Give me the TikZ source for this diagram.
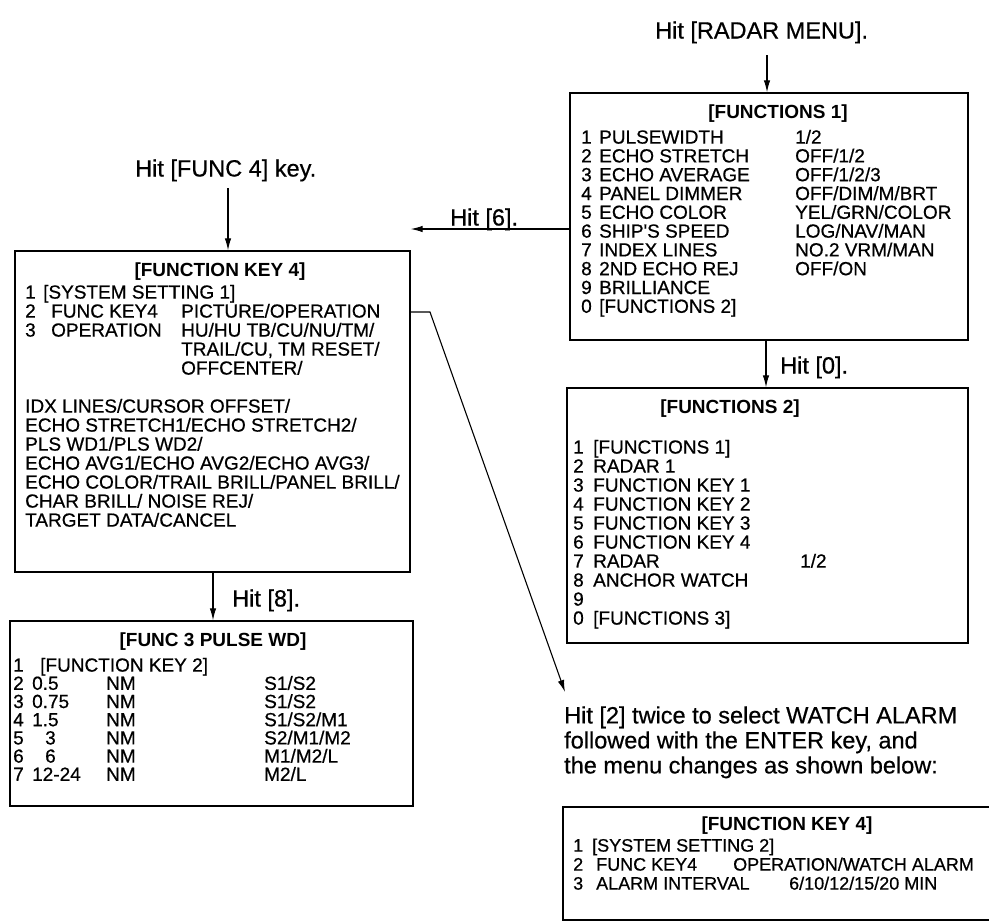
\documentclass[tikz,border=0pt]{standalone}
\usepackage{fontspec}
\setmainfont{Liberation Sans}
\newfontfamily\medfam{Liberation Sans}[FakeBold=0.6]
\usetikzlibrary{arrows.meta}
\newcommand\bodyfnt{\fontsize{19}{19}\selectfont\medfam}
\newcommand\smallfnt{\fontsize{18}{18}\selectfont\medfam}
\newcommand\ttlfnt{\fontsize{19}{19}\selectfont\bfseries}
\newcommand\labfnt{\fontsize{23.5}{25}\selectfont\medfam}
\tikzset{
  box/.style={draw, line width=1.4pt, inner sep=0pt},
  arr/.style={-{Latex[length=12pt,width=6.5pt]}, line width=1.1pt},
  txt/.style={anchor=base west, inner sep=0pt, font=\bodyfnt},
  stxt/.style={anchor=base west, inner sep=0pt, font=\smallfnt},
  ttl/.style={anchor=base, inner sep=0pt, font=\ttlfnt},
  lab/.style={anchor=base west, inner sep=0pt, font=\labfnt},
}
\begin{document}
\begin{tikzpicture}[x=1pt,y=-1pt]
\useasboundingbox (0,0) rectangle (989,922);

% ---------- boxes ----------
\node[box, minimum width=398pt, minimum height=247pt] (f1) at (769,216.5) {};
\node[box, minimum width=401pt, minimum height=255pt] (f2) at (767.5,515.5) {};
\node[box, minimum width=395pt, minimum height=321pt] (fk4) at (212.5,411.5) {};
\node[box, minimum width=403pt, minimum height=185pt] (pw) at (211.5,713.5) {};
\node[box, minimum width=437pt, minimum height=113pt] (fk4b) at (781.5,863.5) {};

% ---------- labels ----------
\node[lab] (lradar) at (655,38.5) {Hit [RADAR MENU].};
\node[lab] (lfunc) at (135,176.5) {Hit [FUNC 4] key.};
\node[lab] (l6) at (450,225.5) {Hit [6].};
\node[lab] (l0) at (780,373.5) {Hit [0].};
\node[lab] (l8) at (232,606.5) {Hit [8].};
\node[lab] (lw1) at (564,723.4) {Hit [2] twice to select WATCH ALARM};
\node[lab] (lw2) at (564,748.4) {followed with the ENTER key, and};
\node[lab] (lw3) at (564,773.4) {the menu changes as shown below:};

% ---------- FUNCTIONS 1 ----------
\node[ttl] (f1t) at (778,118.6) {[FUNCTIONS 1]};
\foreach \t [count=\i from 0] in {1,2,3,4,5,6,7,8,9,0}
  \node[txt] (f1n\i) at (581,{143.6+18.8*\i}) {\t};
\foreach \t [count=\i from 0] in {PULSEWIDTH,ECHO STRETCH,ECHO AVERAGE,PANEL DIMMER,ECHO COLOR,SHIP'S SPEED,INDEX LINES,2ND ECHO REJ,BRILLIANCE,{[FUNCTIONS 2]}}
  \node[txt] (f1a\i) at (599,{143.6+18.8*\i}) {\t};
\foreach \t [count=\i from 0] in {1/2,OFF/1/2,OFF/1/2/3,OFF/DIM/M/BRT,YEL/GRN/COLOR,LOG/NAV/MAN,NO.2 VRM/MAN,OFF/ON}
  \node[txt] (f1v\i) at (795,{143.6+18.8*\i}) {\t};

% ---------- FUNCTIONS 2 ----------
\node[ttl] (f2t) at (730,413.6) {[FUNCTIONS 2]};
\foreach \t [count=\i from 0] in {1,2,3,4,5,6,7,8,9,0}
  \node[txt] (f2n\i) at (573,{453.6+19*\i}) {\t};
\foreach \t [count=\i from 0] in {{[FUNCTIONS 1]},RADAR 1,FUNCTION KEY 1,FUNCTION KEY 2,FUNCTION KEY 3,FUNCTION KEY 4,RADAR,ANCHOR WATCH}
  \node[txt] (f2a\i) at (593,{453.6+19*\i}) {\t};
\node[txt] (f2a9) at (593,{453.6+19*9}) {[FUNCTIONS 3]};
\node[txt] (f2v6) at (800,{453.6+19*6}) {1/2};

% ---------- FUNCTION KEY 4 ----------
\node[ttl] (fk4t) at (220,276.6) {[FUNCTION KEY 4]};
\node[txt] (fk4n0) at (25,298.6) {1};
\node[txt] (fk4n1) at (25,317.6) {2};
\node[txt] (fk4n2) at (25,336.6) {3};
\node[txt] (fk4a0) at (43,298.6) {[SYSTEM SETTING 1]};
\node[txt] (fk4a1) at (51,317.6) {FUNC KEY4};
\node[txt] (fk4a2) at (51,336.6) {OPERATION};
\foreach \t [count=\i from 1] in {PICTURE/OPERATION,HU/HU TB/CU/NU/TM/,{TRAIL/CU, TM RESET/},OFFCENTER/}
  \node[txt] (fk4v\i) at (181,{298.6+19*\i}) {\t};
\foreach \t [count=\i from 0] in {IDX LINES/CURSOR OFFSET/,ECHO STRETCH1/ECHO STRETCH2/,PLS WD1/PLS WD2/,ECHO AVG1/ECHO AVG2/ECHO AVG3/,ECHO COLOR/TRAIL BRILL/PANEL BRILL/,CHAR BRILL/ NOISE REJ/,TARGET DATA/CANCEL}
  \node[txt] (fk4l\i) at (25,{412.6+19*\i}) {\t};

% ---------- FUNC 3 PULSE WD ----------
\node[ttl] (pwt) at (213,646.6) {[FUNC 3 PULSE WD]};
\foreach \t [count=\i from 0] in {1,2,3,4,5,6,7}
  \node[txt] (pwn\i) at (13,{671.6+18.2*\i}) {\t};
\node[txt] (pwa0) at (40,671.6) {[FUNCTION KEY 2]};
\node[txt] (pwa1) at (32,{671.6+18.2*1}) {0.5};
\node[txt] (pwa2) at (32,{671.6+18.2*2}) {0.75};
\node[txt] (pwa3) at (32,{671.6+18.2*3}) {1.5};
\node[txt] (pwa4) at (45,{671.6+18.2*4}) {3};
\node[txt] (pwa5) at (45,{671.6+18.2*5}) {6};
\node[txt] (pwa6) at (32,{671.6+18.2*6}) {12-24};
\foreach \i in {1,...,6}
  \node[txt] (pwu\i) at (106,{671.6+18.2*\i}) {NM};
\foreach \t [count=\i from 1] in {S1/S2,S1/S2,S1/S2/M1,S2/M1/M2,M1/M2/L,M2/L}
  \node[txt] (pwv\i) at (264,{671.6+18.2*\i}) {\t};

% ---------- FUNCTION KEY 4 (after) ----------
\node[ttl] (fk4bt) at (787,830.6) {[FUNCTION KEY 4]};
\node[stxt] (fk4bn0) at (573,851.6) {1};
\node[stxt] (fk4bn1) at (573,870.6) {2};
\node[stxt] (fk4bn2) at (573,889.6) {3};
\node[stxt] (fk4ba0) at (592,851.6) {[SYSTEM SETTING 2]};
\node[stxt] (fk4ba1) at (596,870.6) {FUNC KEY4};
\node[stxt] (fk4ba2) at (596,889.6) {ALARM INTERVAL};
\node[stxt] (fk4bv1) at (733,870.6) {OPERATION/WATCH ALARM};
\node[stxt] (fk4bv2) at (789,889.6) {6/10/12/15/20 MIN};

% ---------- connectors ----------
\coordinate (radarStart) at (767,55);
\draw[arr] (radarStart) -- (radarStart |- f1.north);
\coordinate (funcStart) at (228,188);
\draw[arr] (funcStart) -- (funcStart |- fk4.north);
\coordinate (h6) at (0,229);
\draw[arr] (h6 -| f1.west) -- (h6 -| fk4.east);
\coordinate (h0) at (766,0);
\draw[arr] (h0 |- f1.south) -- (h0 |- f2.north);
\coordinate (h8) at (213,0);
\draw[arr] (h8 |- fk4.south) -- (h8 |- pw.north);
\coordinate (dStart) at (0,312);
\coordinate (dBend) at (430,312);
\coordinate (dEnd) at (565,692);
\draw[arr] (dStart -| fk4.east) -- (dBend) -- (dEnd);
\end{tikzpicture}
\end{document}
